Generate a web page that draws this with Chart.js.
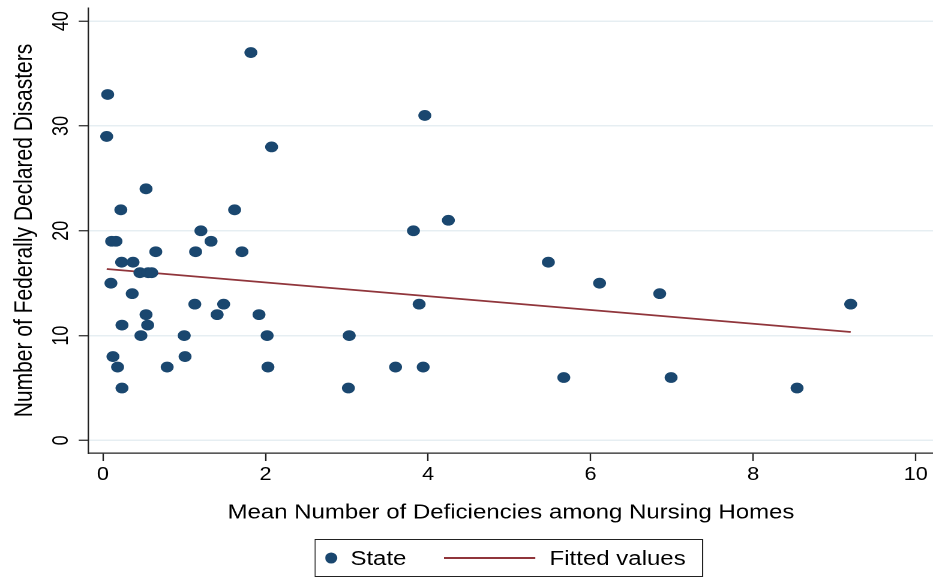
<!DOCTYPE html>
<html>
<head>
<meta charset="utf-8">
<script src="https://cdn.jsdelivr.net/npm/chart.js@4/dist/chart.umd.min.js"></script>
<style>
  body { margin:0; background:#fff; }
  #wrap { position:absolute; left:0; top:0; width:778px; height:578px; transform:scaleX(1.2); transform-origin:0 0; }
  #legendBox { position:absolute; left:262px; top:539px; width:324px; height:38px; border:1px solid #222; box-sizing:border-box;
    font-family:"Liberation Sans", Arial, sans-serif; font-size:20px; color:#000; }
  #legendBox span { position:absolute; top:50%; transform:translateY(-50%); }
  .dot { left:8px; width:10px; height:11px; border-radius:50%; background:#1a476f; }
  .ln { left:107px; width:76px; height:2px; background:#90353b; }
</style>
</head>
<body>
<div id="wrap">
  <canvas id="chart" width="778" height="578"></canvas>
  <div id="legendBox">
    <span class="dot"></span>
    <span style="left:29px">State</span>
    <span class="ln"></span>
    <span style="left:195px">Fitted values</span>
  </div>
</div>
<script>
// state points (x = mean deficiencies, y = declared disasters)
const stateX = [0.058, 0.046, 1.82, 3.96, 2.075, 0.53, 0.22, 1.62, 4.25, 1.205, 3.82,
  0.107, 0.16, 1.33, 0.65, 1.14, 1.71, 0.23, 0.37, 5.48, 0.455, 0.557, 0.60,
  0.098, 6.11, 0.36, 6.85, 1.13, 1.485, 3.89, 9.20, 0.53, 1.405, 1.92,
  0.234, 0.55, 0.467, 1.00, 2.02, 3.03, 0.123, 1.01,
  0.18, 0.79, 2.03, 3.60, 3.94, 5.67, 6.99, 0.234, 3.02, 8.54];
const stateY = [33, 29, 37, 31, 28, 24, 22, 22, 21, 20, 20,
  19, 19, 19, 18, 18, 18, 17, 17, 17, 16, 16, 16,
  15, 15, 14, 14, 13, 13, 13, 13, 12, 12, 12,
  11, 11, 10, 10, 10, 10, 8, 8,
  7, 7, 7, 7, 7, 6, 6, 5, 5, 5];

// fitted line end points
const fitX = [0.046, 9.20];
const fitY = [16.35, 10.34];

const xTicks = [0, 2, 4, 6, 8, 10];
const yTicks = [0, 10, 20, 30, 40];

const FONT = '"Liberation Sans", Arial, sans-serif';

// rotated y tick labels, Stata style
const yTickLabels = {
  id: 'yTickLabels',
  afterDraw(chart){
    const {ctx} = chart;
    const y = chart.scales.y;
    ctx.save();
    ctx.font = '18px ' + FONT;
    ctx.fillStyle = '#000';
    ctx.textAlign = 'center';
    ctx.textBaseline = 'alphabetic';
    y.ticks.forEach(t=>{
      ctx.save();
      ctx.translate(y.right - 17, y.getPixelForValue(t.value));
      ctx.rotate(-Math.PI/2);
      ctx.fillText(String(t.value), 0, 0);
      ctx.restore();
    });
    ctx.restore();
  }
};

new Chart(document.getElementById('chart'), {
  type: 'scatter',
  data: {
    datasets: [
      {
        label: 'State',
        data: stateX.map((x,i)=>({x, y: stateY[i]})),
        backgroundColor: '#1a476f',
        borderWidth: 0,
        pointRadius: 5.4
      },
      {
        label: 'Fitted values',
        type: 'line',
        data: fitX.map((x,i)=>({x, y: fitY[i]})),
        borderColor: '#90353b',
        borderWidth: 1.8,
        pointRadius: 0,
        fill: false
      }
    ]
  },
  options: {
    responsive: false,
    animation: false,
    devicePixelRatio: 2,
    layout: { autoPadding: false, padding: { top: 8, right: 0, bottom: 53, left: 0 } },
    plugins: { legend: { display: false }, tooltip: { enabled: false } },
    scales: {
      x: {
        type: 'linear',
        min: -0.18, max: 10.22,
        afterBuildTicks: s => { s.ticks = xTicks.map(v=>({value: v})); },
        afterFit: s => { s.height = 72; s.paddingLeft = 0; s.paddingRight = 0; },
        grid: { drawOnChartArea: false, drawTicks: true, tickLength: 8, tickColor: '#222', tickWidth: 1.2 },
        border: { color: '#222', width: 1.2 },
        ticks: { color: '#000', padding: 3, font: { family: FONT, size: 18 } },
        title: { display: true, text: 'Mean Number of Deficiencies among Nursing Homes', color: '#000',
          padding: { top: 0, bottom: 0 }, font: { family: FONT, size: 20 } }
      },
      y: {
        min: -1.2, max: 41.25,
        afterBuildTicks: s => { s.ticks = yTicks.map(v=>({value: v})); },
        afterFit: s => { s.width = 73.6; s.paddingTop = 0; s.paddingBottom = 0; },
        grid: { color: '#e6eef2', lineWidth: 1.5, drawTicks: true, tickLength: 8, tickColor: '#222', tickWidth: 1.2 },
        border: { color: '#222', width: 1.2 },
        ticks: { display: false },
        title: { display: true, text: 'Number of Federally Declared Disasters', color: '#000',
          padding: { top: 8, bottom: 0 }, font: { family: FONT, size: 21 } }
      }
    }
  },
  plugins: [yTickLabels]
});
</script>
</body>
</html>
